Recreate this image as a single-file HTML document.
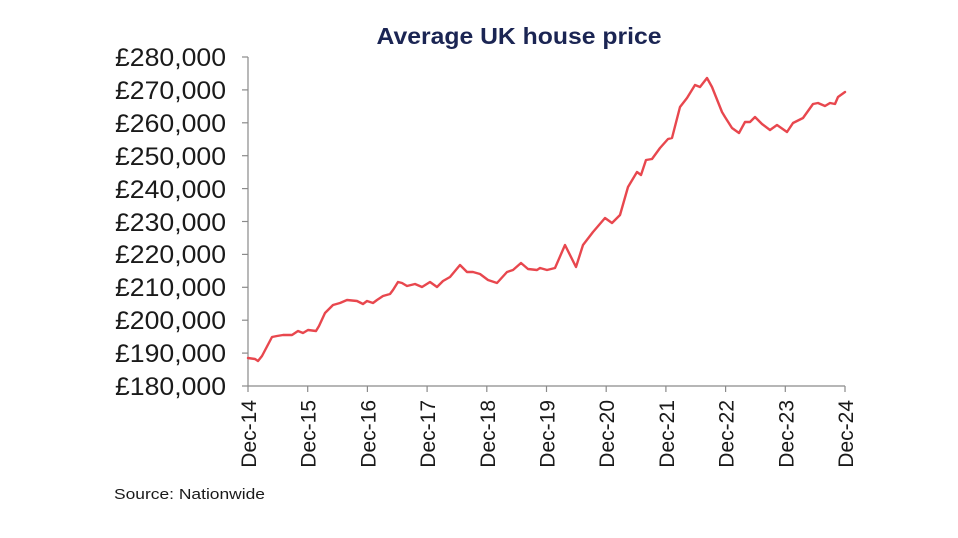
<!DOCTYPE html>
<html><head><meta charset="utf-8"><style>
html,body{margin:0;padding:0;background:#fff;}
svg{display:block;font-family:"Liberation Sans",Arial,sans-serif;}
</style></head><body>
<svg width="958" height="538" viewBox="0 0 958 538" xmlns="http://www.w3.org/2000/svg">
<rect width="958" height="538" fill="#fff"/>
<text x="519" y="44" text-anchor="middle" font-size="23" font-weight="bold" fill="#1b2553" textLength="285" lengthAdjust="spacingAndGlyphs">Average UK house price</text>
<g stroke="#8a8a8a" stroke-width="1.2" fill="none">
<line x1="248" y1="57" x2="248" y2="386"/>
<line x1="248" y1="386" x2="845" y2="386"/>
<line x1="242" y1="57" x2="248" y2="57"/>
<line x1="242" y1="89.9" x2="248" y2="89.9"/>
<line x1="242" y1="122.8" x2="248" y2="122.8"/>
<line x1="242" y1="155.7" x2="248" y2="155.7"/>
<line x1="242" y1="188.6" x2="248" y2="188.6"/>
<line x1="242" y1="221.5" x2="248" y2="221.5"/>
<line x1="242" y1="254.4" x2="248" y2="254.4"/>
<line x1="242" y1="287.3" x2="248" y2="287.3"/>
<line x1="242" y1="320.2" x2="248" y2="320.2"/>
<line x1="242" y1="353.1" x2="248" y2="353.1"/>
<line x1="242" y1="386" x2="248" y2="386"/>
<line x1="248" y1="386" x2="248" y2="392"/>
<line x1="307.7" y1="386" x2="307.7" y2="392"/>
<line x1="367.4" y1="386" x2="367.4" y2="392"/>
<line x1="427.1" y1="386" x2="427.1" y2="392"/>
<line x1="486.8" y1="386" x2="486.8" y2="392"/>
<line x1="546.5" y1="386" x2="546.5" y2="392"/>
<line x1="606.2" y1="386" x2="606.2" y2="392"/>
<line x1="665.9" y1="386" x2="665.9" y2="392"/>
<line x1="725.6" y1="386" x2="725.6" y2="392"/>
<line x1="785.3" y1="386" x2="785.3" y2="392"/>
<line x1="845" y1="386" x2="845" y2="392"/>
</g>
<g font-size="25" fill="#1a1a1a">
<text x="115" y="66" textLength="111" lengthAdjust="spacingAndGlyphs">£280,000</text>
<text x="115" y="99" textLength="111" lengthAdjust="spacingAndGlyphs">£270,000</text>
<text x="115" y="132" textLength="111" lengthAdjust="spacingAndGlyphs">£260,000</text>
<text x="115" y="165" textLength="111" lengthAdjust="spacingAndGlyphs">£250,000</text>
<text x="115" y="198" textLength="111" lengthAdjust="spacingAndGlyphs">£240,000</text>
<text x="115" y="231" textLength="111" lengthAdjust="spacingAndGlyphs">£230,000</text>
<text x="115" y="263" textLength="111" lengthAdjust="spacingAndGlyphs">£220,000</text>
<text x="115" y="296" textLength="111" lengthAdjust="spacingAndGlyphs">£210,000</text>
<text x="115" y="329" textLength="111" lengthAdjust="spacingAndGlyphs">£200,000</text>
<text x="115" y="362" textLength="111" lengthAdjust="spacingAndGlyphs">£190,000</text>
<text x="115" y="395" textLength="111" lengthAdjust="spacingAndGlyphs">£180,000</text>
</g>
<g font-size="21" fill="#1a1a1a" text-anchor="end">
<text transform="translate(256,400) rotate(-90)">Dec-14</text>
<text transform="translate(315.7,400) rotate(-90)">Dec-15</text>
<text transform="translate(375.4,400) rotate(-90)">Dec-16</text>
<text transform="translate(435.1,400) rotate(-90)">Dec-17</text>
<text transform="translate(494.8,400) rotate(-90)">Dec-18</text>
<text transform="translate(554.5,400) rotate(-90)">Dec-19</text>
<text transform="translate(614.2,400) rotate(-90)">Dec-20</text>
<text transform="translate(673.9,400) rotate(-90)">Dec-21</text>
<text transform="translate(733.6,400) rotate(-90)">Dec-22</text>
<text transform="translate(793.3,400) rotate(-90)">Dec-23</text>
<text transform="translate(853,400) rotate(-90)">Dec-24</text>
</g>
<text x="114" y="499" font-size="15" fill="#1a1a1a" textLength="151" lengthAdjust="spacingAndGlyphs">Source: Nationwide</text>
<polyline fill="none" stroke="#e8474e" stroke-width="2.4" stroke-linejoin="round" stroke-linecap="round" points="248,358 255,359 258,361 262,356 272,337 277,336 283,335 292,335 298,331 303,333 308,330 316,331 319,326 325,313 333,305 340,303 347,300 357,301 363,304 367,301 373,303 377,300 383,296 390,294 393,290 398,282 402,283 407,286 415,284 422,287 430,282 437,287 443,281 450,277 460,265 467,272 473,272 480,274 488,280 497,283 507,272 513,270 521,263 528,269 537,270 540,268 547,270 555,268 565,245 576,267 583,245 593,232 605,218 612,223 620,215 628,187 637,172 641,175 646,160 652,159 660,148 668,139 672,138 680,107 687,98 695,85 700,87 707,78 712,87 722,112 725,117 732,128 739,133 745,122 750,122 755,117 762,124 770,130 777,125 787,132 793,123 803,118 813,104 818,103 825,106 830,103 835,104 838,97 845,92"/>
</svg>
</body></html>
